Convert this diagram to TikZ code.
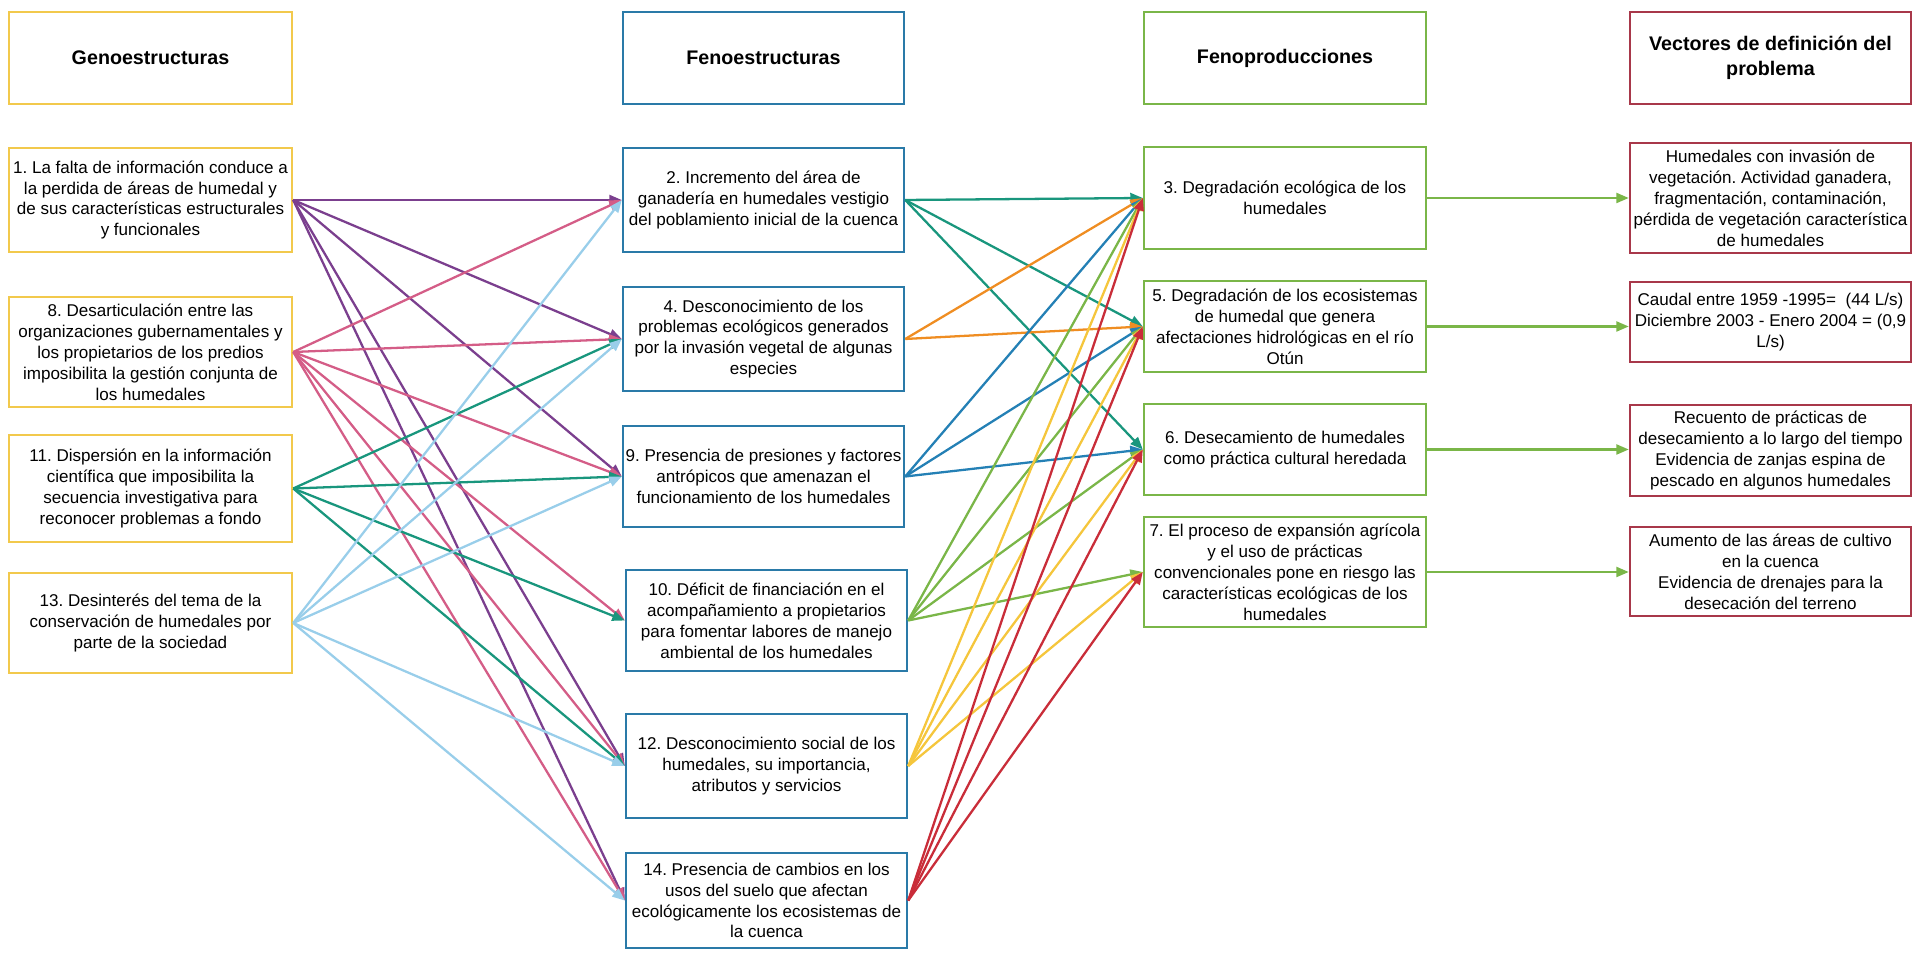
\documentclass[tikz,border=0pt]{standalone}
\usepackage{fontspec}
\setmainfont{Liberation Sans}
\usetikzlibrary{arrows.meta}
\frenchspacing

\definecolor{genyellow}{HTML}{F2C94C}
\definecolor{fenblue}{HTML}{2A7AA8}
\definecolor{prodgreen}{HTML}{7AB648}
\definecolor{vecred}{HTML}{A8384A}
\definecolor{lnpurple}{HTML}{7B3F8E}
\definecolor{lnpink}{HTML}{D45D87}
\definecolor{lnteal}{HTML}{19967D}
\definecolor{lnsky}{HTML}{99CEEA}
\definecolor{lnorange}{HTML}{EF8D22}
\definecolor{lnblue}{HTML}{2480B5}
\definecolor{lngreen}{HTML}{7AB648}
\definecolor{lnyellow}{HTML}{F5C63C}
\definecolor{lnred}{HTML}{C92D39}

\tikzset{
  box/.style={draw, line width=1.4pt, inner sep=0pt, align=center, font=\fontsize{9.7}{11.9}\selectfont},
  genbox/.style={box, draw=genyellow, minimum width=5.66cm},
  fenbox/.style={box, draw=fenblue, minimum width=5.62cm},
  prodbox/.style={box, draw=prodgreen, minimum width=5.64cm},
  vecbox/.style={box, draw=vecred, minimum width=5.62cm},
  head/.style={font=\bfseries\fontsize{11.2}{14.2}\selectfont, minimum height=1.84cm},
  link/.style={line width=1.3pt, -{Triangle[length=0.25cm, width=0.2cm]}},
}

\begin{document}
\begin{tikzpicture}
\useasboundingbox (0,0) rectangle (38.30,19.06);
% headers
\node[genbox, head] (genhead) at (3.01,17.90) {Genoestructuras};
\node[fenbox, head] (fenhead) at (15.27,17.90) {Fenoestructuras};
\node[prodbox, head] (prodhead) at (25.70,17.90) {Fenoproducciones};
\node[vecbox, head] (vechead) at (35.41,17.90) {Vectores de definición del\\problema};
% genoestructuras
\node[genbox, minimum height=2.08cm] (gen1) at (3.01,15.06) {1. La falta de información conduce a\\la perdida de áreas de humedal y\\de sus características estructurales\\y funcionales};
\node[genbox, minimum height=2.20cm] (gen8) at (3.01,12.02) {8. Desarticulación entre las\\organizaciones gubernamentales y\\los propietarios de los predios\\imposibilita la gestión conjunta de\\los humedales};
\node[genbox, minimum height=2.14cm] (gen11) at (3.01,9.29) {11. Dispersión en la información\\científica que imposibilita la\\secuencia investigativa para\\reconocer problemas a fondo};
\node[genbox, minimum height=2.00cm] (gen13) at (3.01,6.60) {13. Desinterés del tema de la\\conservación de humedales por\\parte de la sociedad};
% fenoestructuras
\node[fenbox, minimum height=2.08cm] (fen2) at (15.27,15.06) {2. Incremento del área de\\ganadería en humedales vestigio\\del poblamiento inicial de la cuenca};
\node[fenbox, minimum height=2.08cm] (fen4) at (15.27,12.28) {4. Desconocimiento de los\\problemas ecológicos generados\\por la invasión vegetal de algunas\\especies};
\node[fenbox, minimum height=2.02cm] (fen9) at (15.27,9.53) {9. Presencia de presiones y factores\\antrópicos que amenazan el\\funcionamiento de los humedales};
\node[fenbox, minimum height=2.02cm] (fen10) at (15.33,6.65) {10. Déficit de financiación en el\\acompañamiento a propietarios\\para fomentar labores de manejo\\ambiental de los humedales};
\node[fenbox, minimum height=2.08cm] (fen12) at (15.33,3.74) {12. Desconocimiento social de los\\humedales, su importancia,\\atributos y servicios};
\node[fenbox, minimum height=1.90cm] (fen14) at (15.33,1.05) {14. Presencia de cambios en los\\usos del suelo que afectan\\ecológicamente los ecosistemas de\\la cuenca};
% fenoproducciones
\node[prodbox, minimum height=2.04cm] (prod3) at (25.70,15.10) {3. Degradación ecológica de los\\humedales};
\node[prodbox, minimum height=1.82cm] (prod5) at (25.70,12.53) {5. Degradación de los ecosistemas\\de humedal que genera\\afectaciones hidrológicas en el río\\Otún};
\node[prodbox, minimum height=1.82cm] (prod6) at (25.70,10.07) {6. Desecamiento de humedales\\como práctica cultural heredada};
\node[prodbox, minimum height=2.20cm] (prod7) at (25.70,7.62) {7. El proceso de expansión agrícola\\y el uso de prácticas\\convencionales pone en riesgo las\\características ecológicas de los\\humedales};
% vectores
\node[vecbox, minimum height=2.20cm] (vec1) at (35.41,15.10) {Humedales con invasión de\\vegetación. Actividad ganadera,\\fragmentación, contaminación,\\pérdida de vegetación característica\\de humedales};
\node[vecbox, minimum height=1.60cm] (vec2) at (35.41,12.62) {Caudal entre 1959 -1995=\ \ (44 L/s)\\Diciembre 2003 - Enero 2004 = (0,9\\L/s)};
\node[vecbox, minimum height=1.82cm] (vec3) at (35.41,10.05) {Recuento de prácticas de\\desecamiento a lo largo del tiempo\\Evidencia de zanjas espina de\\pescado en algunos humedales};
\node[vecbox, minimum height=1.78cm] (vec4) at (35.41,7.63) {Aumento de las áreas de cultivo\\en la cuenca\\Evidencia de drenajes para la\\desecación del terreno};
% genoestructuras -> fenoestructuras
\draw[link, lnpurple] (gen1.east) -- (fen2.west);
\draw[link, lnpurple] (gen1.east) -- (fen4.west);
\draw[link, lnpurple] (gen1.east) -- (fen9.west);
\draw[link, lnpurple] (gen1.east) -- (fen12.west);
\draw[link, lnpurple] (gen1.east) -- (fen14.west);
\draw[link, lnpink] (gen8.east) -- (fen2.west);
\draw[link, lnpink] (gen8.east) -- (fen4.west);
\draw[link, lnpink] (gen8.east) -- (fen9.west);
\draw[link, lnpink] (gen8.east) -- (fen10.west);
\draw[link, lnpink] (gen8.east) -- (fen12.west);
\draw[link, lnpink] (gen8.east) -- (fen14.west);
\draw[link, lnteal] (gen11.east) -- (fen4.west);
\draw[link, lnteal] (gen11.east) -- (fen9.west);
\draw[link, lnteal] (gen11.east) -- (fen10.west);
\draw[link, lnteal] (gen11.east) -- (fen12.west);
\draw[link, lnsky] (gen13.east) -- (fen2.west);
\draw[link, lnsky] (gen13.east) -- (fen4.west);
\draw[link, lnsky] (gen13.east) -- (fen9.west);
\draw[link, lnsky] (gen13.east) -- (fen12.west);
\draw[link, lnsky] (gen13.east) -- (fen14.west);
% fenoestructuras -> fenoproducciones
\draw[link, lnteal] (fen2.east) -- (prod3.west);
\draw[link, lnteal] (fen2.east) -- (prod5.west);
\draw[link, lnteal] (fen2.east) -- (prod6.west);
\draw[link, lnorange] (fen4.east) -- (prod3.west);
\draw[link, lnorange] (fen4.east) -- (prod5.west);
\draw[link, lnblue] (fen9.east) -- (prod3.west);
\draw[link, lnblue] (fen9.east) -- (prod5.west);
\draw[link, lnblue] (fen9.east) -- (prod6.west);
\draw[link, lngreen] (fen10.east) -- (prod3.west);
\draw[link, lngreen] (fen10.east) -- (prod5.west);
\draw[link, lngreen] (fen10.east) -- (prod6.west);
\draw[link, lngreen] (fen10.east) -- (prod7.west);
\draw[link, lnyellow] (fen12.east) -- (prod3.west);
\draw[link, lnyellow] (fen12.east) -- (prod5.west);
\draw[link, lnyellow] (fen12.east) -- (prod6.west);
\draw[link, lnyellow] (fen12.east) -- (prod7.west);
\draw[link, lnred] (fen14.east) -- (prod3.west);
\draw[link, lnred] (fen14.east) -- (prod5.west);
\draw[link, lnred] (fen14.east) -- (prod6.west);
\draw[link, lnred] (fen14.east) -- (prod7.west);
% fenoproducciones -> vectores
\draw[link, lngreen] (prod3.east) -- (prod3.east -| vec1.west);
\draw[link, lngreen] (prod5.east) -- (prod5.east -| vec2.west);
\draw[link, lngreen] (prod6.east) -- (prod6.east -| vec3.west);
\draw[link, lngreen] (prod7.east) -- (prod7.east -| vec4.west);
\end{tikzpicture}
\end{document}
